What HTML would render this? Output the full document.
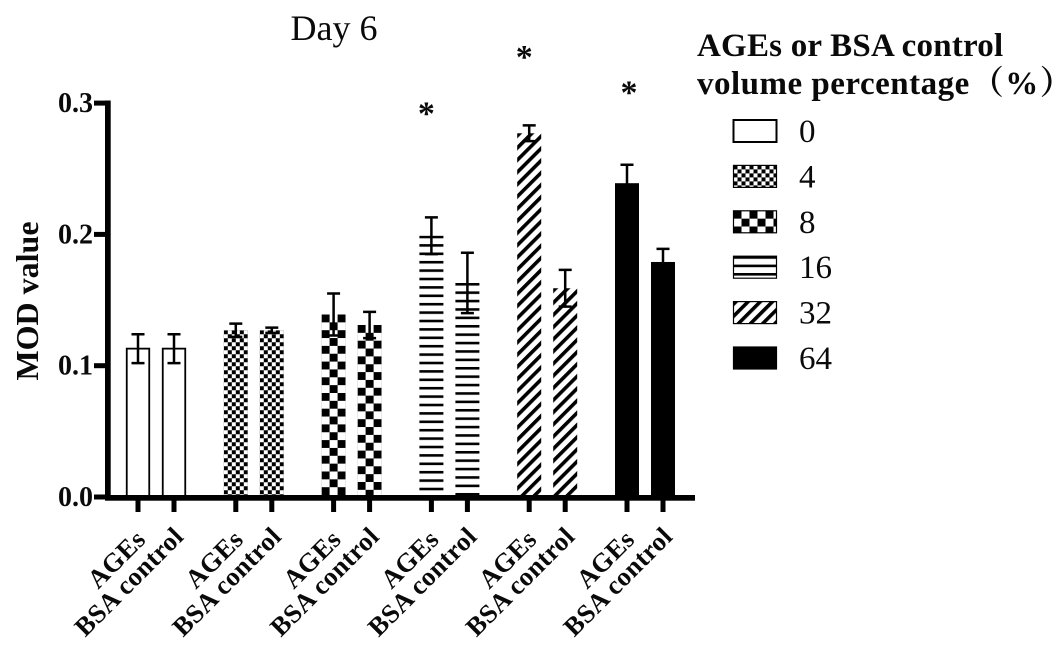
<!DOCTYPE html>
<html lang="en">
<head>
<meta charset="utf-8">
<title>Day 6 MOD value chart</title>
<style>
html,body{margin:0;padding:0;background:#fff}
svg{display:block}
text{font-family:"Liberation Serif","Noto Serif CJK SC",serif;fill:#0a0a0a}
</style>
</head>
<body>
<svg id="chart" width="1063" height="653" viewBox="0 0 1063 653" xmlns="http://www.w3.org/2000/svg">
<defs>
<pattern id="p0" patternUnits="userSpaceOnUse" width="8" height="8"><rect width="8" height="8" fill="#fff"/></pattern>
<pattern id="p4" patternUnits="userSpaceOnUse" width="8" height="8"><rect width="8" height="8" fill="#fff"/><rect x="0" y="0" width="4" height="4" fill="#000"/><rect x="4" y="4" width="4" height="4" fill="#000"/></pattern>
<pattern id="p8" patternUnits="userSpaceOnUse" width="16" height="15.7"><rect width="16" height="15.7" fill="#fff"/><rect x="0" y="0" width="8" height="7.85" fill="#000"/><rect x="8" y="7.85" width="8" height="7.85" fill="#000"/></pattern>
<pattern id="p16" patternUnits="userSpaceOnUse" width="8.4" height="8.4"><rect width="8.4" height="8.4" fill="#fff"/><rect y="0" width="8.4" height="2.6" fill="#000"/></pattern>
<pattern id="p32" patternUnits="userSpaceOnUse" width="8.6" height="8.6" patternTransform="rotate(45)"><rect width="8.6" height="8.6" fill="#fff"/><rect x="0" width="3.6" height="8.6" fill="#000"/></pattern>
<pattern id="p64" patternUnits="userSpaceOnUse" width="8" height="8"><rect width="8" height="8" fill="#000"/></pattern>
</defs>
<g id="bars"></g>
<g id="errors"></g>
<g id="axes"></g>
<g id="legend"></g>
<text x="334" y="40" text-anchor="middle" font-size="36">Day 6</text>
<text transform="translate(38,301) rotate(-90)" text-anchor="middle" font-size="32" font-weight="bold">MOD value</text>
<text x="697" y="56" font-size="33" font-weight="bold" letter-spacing="0.22">AGEs or BSA control</text>
<text x="697" y="94" font-size="33" font-weight="bold" letter-spacing="0.5">volume percentage<tspan letter-spacing="1.5" dx="1">（%）</tspan></text>
</svg>
<script>
var doseLabels = ['0', '4', '8', '16', '32', '64'];
var categoryLabels = ['AGEs', 'BSA control'];
var agesValues = [0.113, 0.127, 0.139, 0.199, 0.277, 0.239];
var bsaValues = [0.113, 0.127, 0.131, 0.163, 0.159, 0.179];
var agesErrors = [0.011, 0.005, 0.016, 0.014, 0.006, 0.014];
var bsaErrors = [0.011, 0.002, 0.010, 0.023, 0.014, 0.010];
var significantDoses = [false, false, false, true, true, true];
var starValues = [0, 0, 0, 0.293, 0.336, 0.309];
var yTicks = [0, 0.1, 0.2, 0.3];

var NS = 'http://www.w3.org/2000/svg';
function yScale(v) { return 497 - v * 1313; }
function xScale(group, member) { return 138 + group * 97.8 + member * 36; }
function make(tag, parent, attrs) {
  var el = document.createElementNS(NS, tag);
  for (var k in attrs) { el.setAttribute(k, attrs[k]); }
  parent.appendChild(el);
  return el;
}
var barsG = document.getElementById('bars');
var errG = document.getElementById('errors');
var axesG = document.getElementById('axes');
var legG = document.getElementById('legend');
var BW = 24;

function drawBar(group, member, value, err) {
  var cx = xScale(group, member);
  var top = yScale(value);
  var base = yScale(0);
  var hollow = group === 0;
  var bar = make('rect', barsG, {
    transform: 'translate(' + (cx - BW / 2) + ',' + top + ')',
    x: hollow ? 0.75 : 0,
    y: 0,
    width: BW - (hollow ? 1.5 : 0),
    height: base - top,
    fill: 'url(#p' + doseLabels[group] + ')',
    stroke: hollow ? '#000' : 'none',
    'stroke-width': 1.8
  });
  
  
  var yHi = yScale(value + err);
  var yLo = yScale(value - err);
  var e = make('path', errG, {
    d: 'M' + (cx - 6.5) + ' ' + yHi + 'H' + (cx + 6.5) + 'M' + cx + ' ' + yHi + 'V' + yLo + 'M' + (cx - 6.5) + ' ' + yLo + 'H' + (cx + 6.5),
    stroke: '#000',
    'stroke-width': 2.5,
    fill: 'none'
  });
  
  
  var tick = make('rect', axesG, { x: cx - 2.5, y: 497, width: 5, height: 15, fill: '#000' });
  
  
  var anchorX = cx + (member ? 11 : 9);
  var anchorY = member ? 538 : 541;
  var lab = make('text', axesG, {
    transform: 'translate(' + anchorX + ',' + anchorY + ') rotate(-45)',
    'text-anchor': 'end',
    'font-size': 26.5,
    'font-weight': 'bold',
    'letter-spacing': 0.35
  });
  lab.textContent = categoryLabels[member];
  
  
}

doseLabels.forEach(function (d, i) {
  drawBar(i, 0, agesValues[i], agesErrors[i]);
  drawBar(i, 1, bsaValues[i], bsaErrors[i]);
  if (significantDoses[i]) {
    var star = make('text', axesG, {
      x: xScale(i, 0) + (i === 5 ? 2 : -5),
      y: yScale(starValues[i]) + 12,
      'text-anchor': 'middle',
      'font-size': 34,
      'font-weight': 'bold'
    });
    star.textContent = '*';
    
    
  }
});

var yAxis = make('rect', axesG, { x: 105, y: 100.5, width: 5.7, height: 400, fill: '#000' });


var xAxis = make('rect', axesG, { x: 105, y: 495, width: 590, height: 5.7, fill: '#000' });



yTicks.forEach(function (t) {
  var y = yScale(t);
  var tick = make('rect', axesG, { x: 94, y: y - 2.5, width: 12, height: 5, fill: '#000' });
  
  
  var lab = make('text', axesG, {
    x: 93, y: y + 9, 'text-anchor': 'end', 'font-size': 28, 'font-weight': 'bold'
  });
  lab.textContent = t.toFixed(1);
  
  
});

doseLabels.forEach(function (d, i) {
  var cy = 131 + i * 45.4;
  var swatch = make('rect', legG, {
    transform: 'translate(733.5,' + (cy - 11) + ')',
    x: 0, y: 0, width: 43, height: 22,
    fill: 'url(#p' + d + ')',
    stroke: '#000',
    'stroke-width': i === 0 ? 2 : 1.2
  });
  
  
  var lab = make('text', legG, { x: 799, y: cy + 11, 'font-size': 33 });
  lab.textContent = d;
  
  
});
</script>
</body>
</html>
